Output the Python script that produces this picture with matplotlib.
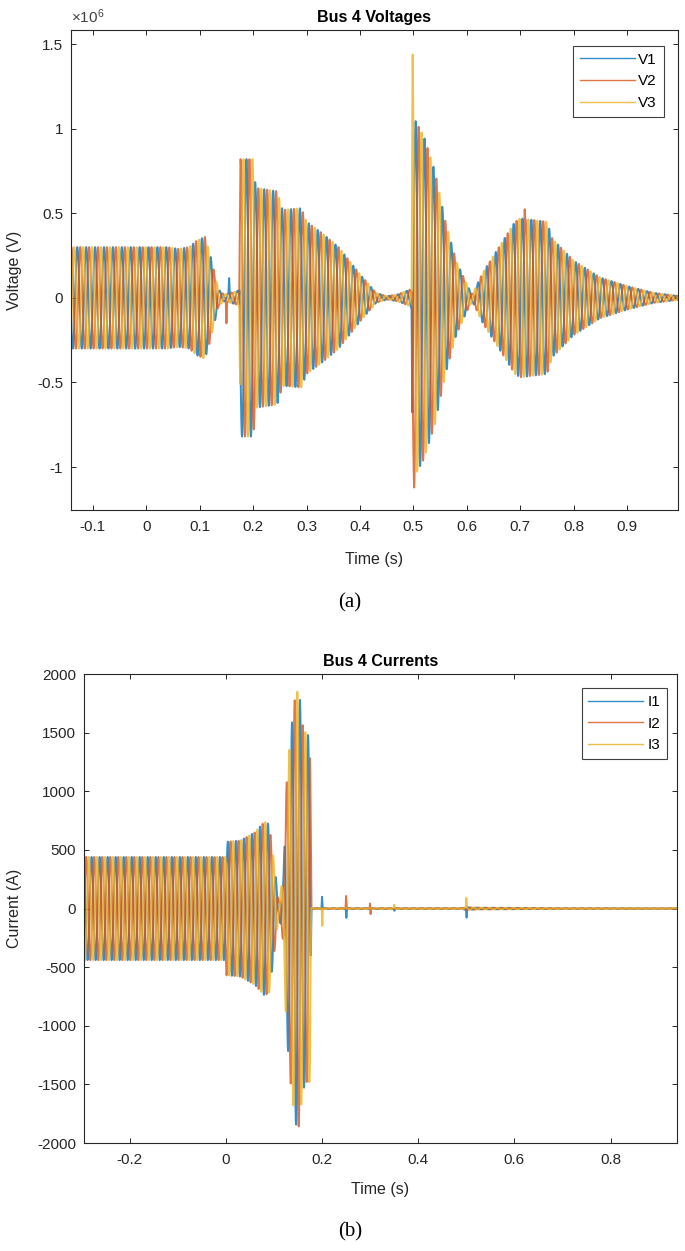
import numpy as np
import matplotlib
matplotlib.use("Agg")
import matplotlib.pyplot as plt
from matplotlib.ticker import FuncFormatter

plt.rcParams['font.family'] = ['Liberation Sans', 'DejaVu Sans']
plt.rcParams['axes.unicode_minus'] = False
plt.rcParams['mathtext.default'] = 'regular'

# ---- data ----
freq = 60.0
phase_deg = [0, -120, 120]
colors = ["#0072BD", "#D95319", "#EDB120"]

# bus 4 voltage envelope (peak, V)
v_env_t = [-0.145, 0.04, 0.06, 0.08, 0.095, 0.11, 0.12, 0.135, 0.145, 0.17, 0.174,
           0.176, 0.2, 0.205, 0.245, 0.255, 0.29, 0.30, 0.33, 0.36, 0.40, 0.43,
           0.45, 0.47, 0.494, 0.4965, 0.4982, 0.52, 0.54, 0.56, 0.58, 0.60, 0.61,
           0.63, 0.66, 0.69, 0.70, 0.75, 0.76, 0.80, 0.85, 0.90, 0.95, 1.0]
v_env = [0.30e6, 0.30e6, 0.29e6, 0.30e6, 0.34e6, 0.36e6, 0.25e6, 0.05e6, 0.02e6, 0.04e6, 0.05e6,
         0.82e6, 0.82e6, 0.65e6, 0.63e6, 0.52e6, 0.53e6, 0.45e6, 0.38e6, 0.30e6, 0.14e6, 0.03e6,
         0.01e6, 0.02e6, 0.05e6, 0.06e6, 1.08e6, 0.95e6, 0.75e6, 0.45e6, 0.22e6, 0.08e6, 0.02e6,
         0.15e6, 0.30e6, 0.45e6, 0.47e6, 0.45e6, 0.35e6, 0.22e6, 0.12e6, 0.07e6, 0.03e6, 0.01e6]
# transient spikes: (phase index, time, size)
v_spikes = [(2, 0.4986, 0.36e6), (1, 0.5014, -0.06e6), (1, 0.1500, -0.13e6),
            (0, 0.1550, 0.09e6), (1, 0.7080, 0.14e6), (0, 0.6990, -0.10e6),
            (0, 0.1810, -0.03e6)]

# bus 4 current envelope (peak, A)
i_env_t = [-0.30, 0.0, 0.001, 0.03, 0.06, 0.08, 0.09, 0.10, 0.11, 0.12, 0.125,
           0.135, 0.145, 0.152, 0.16, 0.168, 0.175, 0.178, 0.18, 0.49, 0.50, 0.52, 0.70, 0.95]
i_env = [440, 440, 570, 580, 650, 740, 720, 400, 50, 300, 1000,
         1500, 1840, 1860, 1550, 1480, 1480, 10, 3, 3, 12, 8, 3, 2]
i_spikes = [(0, 0.200, 100), (2, 0.2005, -150), (1, 0.250, 110), (0, 0.2505, -80),
            (1, 0.300, 90), (1, 0.3005, -90), (2, 0.350, 30), (0, 0.3505, -20),
            (2, 0.500, 80), (0, 0.5005, -80)]


def build(t, env_t, env, spikes, width):
    amp = np.interp(t, env_t, env)
    out = []
    for k, ph in enumerate(phase_deg):
        y = amp * np.sin(2 * np.pi * freq * t + np.deg2rad(ph))
        for idx, t0, a in spikes:
            if idx == k:
                y = y + a * np.exp(-((t - t0) / width) ** 2)
        out.append(y)
    return out


def style(ax):
    ax.tick_params(direction='in', top=True, right=True, length=3.5,
                   colors='#262626', labelsize=11, width=0.7)
    ax.tick_params(axis='x', pad=7)
    ax.tick_params(axis='y', pad=5.5)
    for s in ax.spines.values():
        s.set_color('#262626')
        s.set_linewidth(0.8)


def add_legend(ax, anchor):
    leg = ax.legend(loc='upper right', fontsize=11, handlelength=3.6, fancybox=False,
                    framealpha=1, edgecolor='#404040', borderpad=0.45, labelspacing=0.5,
                    handletextpad=0.25, borderaxespad=0, bbox_to_anchor=anchor)
    leg.get_frame().set_linewidth(0.8)
    for h in leg.get_lines():
        h.set_linewidth(1.0)


fig = plt.figure(figsize=(6.85, 12.51), dpi=100)

# ---- (a) voltages ----
ax1 = fig.add_axes([0.1036, 0.5923, 0.886, 0.3837])
t1 = np.arange(-0.145, 1.0, 1e-4)
volts = build(t1, v_env_t, v_env, v_spikes, 0.0008)
for k, y in enumerate(volts):
    ax1.plot(t1, y, color=colors[k], lw=1.4, alpha=0.8, label='V%d' % (k + 1))
ax1.set_xlim(-0.141, 0.995)
ax1.set_ylim(-1.254e6, 1.583e6)
ax1.set_xticks(np.round(np.arange(-0.1, 0.95, 0.1), 1))
ax1.set_yticks([-1e6, -0.5e6, 0, 0.5e6, 1e6, 1.5e6])
ax1.xaxis.set_major_formatter(FuncFormatter(lambda v, p: '%g' % round(v, 1)))
ax1.yaxis.set_major_formatter(FuncFormatter(lambda v, p: '%g' % (v / 1e6)))
ax1.text(0.0, 1.008, r'$\times10^{6}$', transform=ax1.transAxes,
         fontsize=11, color='#404040', va='bottom', ha='left')
ax1.set_title('Bus 4 Voltages', fontsize=11.5, fontweight='bold', pad=6)
ax1.set_xlabel('Time (s)', fontsize=11.5, color='#262626')
ax1.set_ylabel('Voltage (V)', fontsize=11.5, color='#262626')
ax1.xaxis.set_label_coords(0.5, -0.087)
ax1.yaxis.set_label_coords(-0.081, 0.5)
style(ax1)
add_legend(ax1, (0.977, 0.967))

# ---- (b) currents ----
ax2 = fig.add_axes([0.1226, 0.0863, 0.8657, 0.3749])
t2 = np.arange(-0.30, 0.95, 1e-4)
amps = build(t2, i_env_t, i_env, i_spikes, 0.0008)
for k, y in enumerate(amps):
    ax2.plot(t2, y, color=colors[k], lw=1.4, alpha=0.8, label='I%d' % (k + 1))
ax2.set_xlim(-0.295, 0.938)
ax2.set_ylim(-2000, 2000)
ax2.set_xticks([-0.2, 0, 0.2, 0.4, 0.6, 0.8])
ax2.set_yticks(np.arange(-2000, 2001, 500))
ax2.xaxis.set_major_formatter(FuncFormatter(lambda v, p: '%g' % round(v, 1)))
ax2.set_title('Bus 4 Currents', fontsize=11.5, fontweight='bold', pad=6)
ax2.set_xlabel('Time (s)', fontsize=11.5, color='#262626')
ax2.set_ylabel('Current (A)', fontsize=11.5, color='#262626')
ax2.xaxis.set_label_coords(0.5, -0.083)
ax2.yaxis.set_label_coords(-0.105, 0.5)
style(ax2)
add_legend(ax2, (0.983, 0.970))

fig.text(0.511, 0.518, '(a)', fontsize=15, family='Liberation Serif', ha='center', va='center')
fig.text(0.511, 0.015, '(b)', fontsize=15, family='Liberation Serif', ha='center', va='center')

fig.savefig('out.png', dpi=100)
